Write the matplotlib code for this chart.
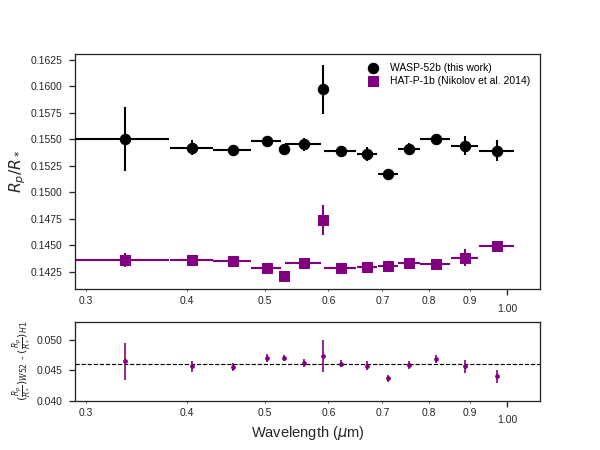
import matplotlib
matplotlib.use('Agg')
import matplotlib.pyplot as plt
from matplotlib.lines import Line2D
from matplotlib.ticker import FixedLocator, FormatStrFormatter

plt.rcParams['font.family'] = ['Liberation Sans', 'DejaVu Sans']
plt.rcParams['mathtext.fontset'] = 'dejavusans'

# bin centres and half widths (micron)
wl = [0.335, 0.406, 0.456, 0.5025, 0.528, 0.559, 0.590, 0.621, 0.670, 0.711, 0.755, 0.815, 0.886, 0.971]
wl_hw = [0.045, 0.025, 0.025, 0.0215, 0.004, 0.029, 0.002, 0.029, 0.019, 0.020, 0.024, 0.035, 0.035, 0.049]

# WASP-52b (this work)
w52 = [0.1550, 0.1542, 0.1540, 0.1548, 0.1541, 0.1545, 0.1597, 0.1539, 0.1536, 0.1517, 0.1541, 0.1550, 0.1544, 0.1539]
w52_err = [0.0030, 0.0007, 0.0003, 0.0003, 0.0003, 0.0006, 0.0023, 0.0005, 0.0007, 0.0003, 0.0005, 0.0005, 0.0009, 0.0010]

# HAT-P-1b (Nikolov et al. 2014)
h1 = [0.1436, 0.1436, 0.1435, 0.1428, 0.1421, 0.1433, 0.1474, 0.1428, 0.1429, 0.1430, 0.1433, 0.1432, 0.1438, 0.1449]
h1_err = [0.0007, 0.0004, 0.0003, 0.0004, 0.0003, 0.0003, 0.0014, 0.0003, 0.0004, 0.0004, 0.0004, 0.0004, 0.0008, 0.0004]

# difference panel
diff = [0.04647, 0.04569, 0.04552, 0.04702, 0.04702, 0.04619, 0.04735, 0.04608, 0.04580, 0.04365, 0.04586, 0.04685, 0.04564, 0.04403]
diff_err = [0.0031, 0.0009, 0.0007, 0.0007, 0.0005, 0.0007, 0.0027, 0.0006, 0.0008, 0.0005, 0.0007, 0.0007, 0.0010, 0.0011]
diff_mean = 0.046

minor_ticks = [0.3, 0.4, 0.5, 0.6, 0.7, 0.8, 0.9]
major_ticks = [1.0]

dark = '0.15'

fig = plt.figure(figsize=(8, 6), dpi=75)
gs = fig.add_gridspec(2, 1, height_ratios=[3, 1], hspace=0.21)
ax1 = fig.add_subplot(gs[0])
ax2 = fig.add_subplot(gs[1])

ax1.errorbar(wl, w52, xerr=wl_hw, yerr=w52_err, fmt='o', color='black',
             ms=10, elinewidth=2, capsize=0, zorder=3)
ax1.errorbar(wl, h1, xerr=wl_hw, yerr=h1_err, fmt='s', color='purple',
             ms=10, elinewidth=2, capsize=0, zorder=2)

handles = [Line2D([], [], ls='none', marker='o', color='black', ms=10),
           Line2D([], [], ls='none', marker='s', color='purple', ms=10)]
ax1.legend(handles, ['WASP-52b (this work)', 'HAT-P-1b (Nikolov et al. 2014)'],
           loc='upper right', frameon=False, fontsize=10, handletextpad=0.9,
           borderaxespad=0.5, labelspacing=0.3, handlelength=1.5)

ax2.errorbar(wl, diff, yerr=diff_err, fmt='o', color='purple', ms=3.5,
             elinewidth=1.6, capsize=0)
ax2.axhline(diff_mean, color='black', ls='--', lw=1.1, zorder=0)

ax1.set_ylim(0.14084, 0.16304)
ax1.yaxis.set_major_locator(FixedLocator([0.1425 + 0.0025 * i for i in range(9)]))
ax1.yaxis.set_major_formatter(FormatStrFormatter('%.4f'))
ax1.set_ylabel(r'$R_p/R_*$', fontsize=15, color=dark)

ax2.set_ylim(0.040, 0.053)
ax2.yaxis.set_major_locator(FixedLocator([0.040, 0.045, 0.050]))
ax2.yaxis.set_major_formatter(FormatStrFormatter('%.3f'))
ax2.set_ylabel(r'$(\frac{R_p}{R_*})_{W52}$ - $(\frac{R_p}{R_*})_{H1}$', fontsize=10.5, color=dark)
ax2.set_xlabel(r'Wavelength ($\mu$m)', fontsize=14, color=dark, labelpad=-1)

for ax in (ax1, ax2):
    ax.set_xscale('log')
    ax.set_xlim(0.2905, 1.099)
    ax.xaxis.set_major_locator(FixedLocator(major_ticks))
    ax.xaxis.set_minor_locator(FixedLocator(minor_ticks))
    ax.xaxis.set_major_formatter(FormatStrFormatter('%.2f'))
    ax.xaxis.set_minor_formatter(FormatStrFormatter('%.1f'))
    for s in ax.spines.values():
        s.set_color(dark)
        s.set_linewidth(1.25)
    ax.tick_params(axis='both', which='major', direction='out', length=6,
                   width=1.25, color=dark, labelcolor=dark, labelsize=10, pad=6)
    ax.tick_params(axis='x', which='major', pad=8)
    ax.tick_params(axis='x', which='minor', direction='out', length=2,
                   width=0.8, color=dark, labelcolor=dark, labelsize=10, pad=5)
    ax.tick_params(axis='y', which='minor', length=0)

ax1.yaxis.set_label_coords(-0.102, 0.5)
ax2.yaxis.set_label_coords(-0.09, 0.5)

fig.savefig('out.png', dpi=75)
